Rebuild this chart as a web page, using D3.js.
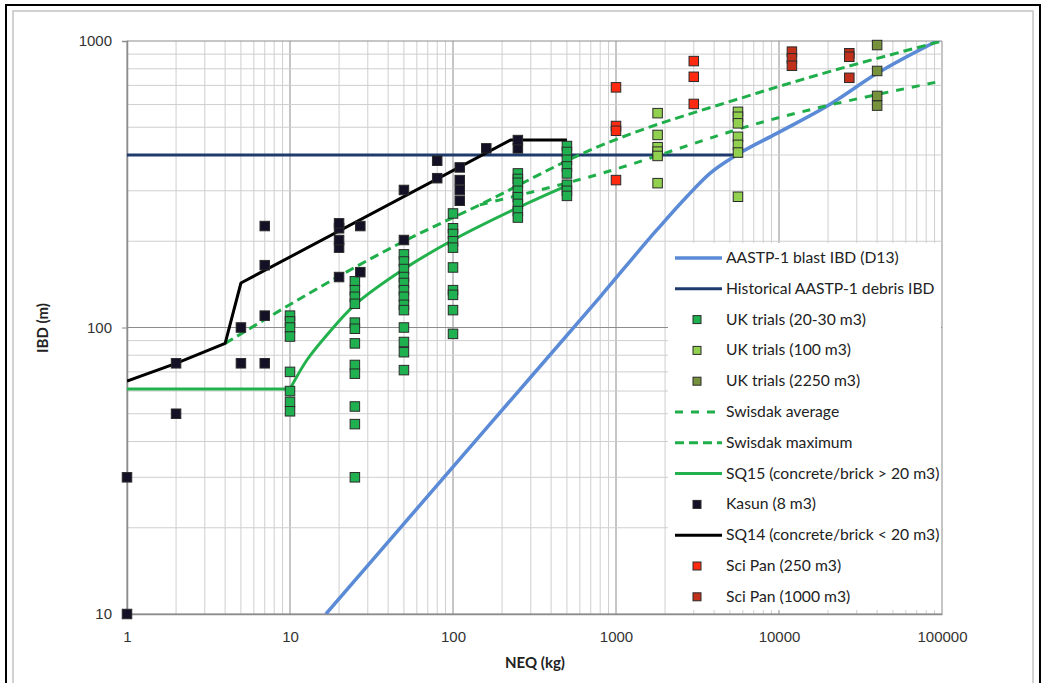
<!DOCTYPE html>
<html>
<head>
<meta charset="utf-8">
<script src="https://cdn.jsdelivr.net/npm/d3@7"></script>
<style>
  body { margin: 0; background: #fff; }
  svg { font-family: Lato, "Open Sans", sans-serif; }
  .grid-minor { stroke: #cfcfcf; stroke-width: 1; }
  .grid-major { stroke: #8c8c8c; stroke-width: 1; }
  .axis text { font-size: 15px; fill: #333; }
  .axis path, .axis line { stroke: #8c8c8c; }
  .legend text { font-size: 15.7px; fill: #222; }
</style>
</head>
<body>
<svg id="chart" width="1046" height="683"></svg>
<script>
// ---- data: [NEQ kg, IBD m] ----
var ukTrials20 = [
  [10,110],[10,105],[10,100],[10,93],[10,70],[10,60],[10,55],[10,51],
  [25,145],[25,135],[25,128],[25,121],[25,104],[25,99],[25,88],[25,74],[25,69],[25,53],[25,46],[25,30],
  [50,180],[50,170],[50,160],[50,150],[50,143],[50,135],[50,128],[50,120],[50,115],[50,100],[50,89],[50,82],[50,71],
  [100,250],[100,222],[100,212],[100,200],[100,190],[100,162],[100,135],[100,130],[100,115],[100,95],
  [250,345],[250,330],[250,320],[250,300],[250,285],[250,270],[250,255],[250,242],
  [500,430],[500,410],[500,385],[500,365],[500,345],[500,315],[500,300],[500,288]
];
var ukTrials100 = [
  [1800,560],[1800,470],[1800,426],[1800,411],[1800,397],[1800,319],
  [5600,566],[5600,544],[5600,516],[5600,463],[5600,434],[5600,408],[5600,286]
];
var ukTrials2250 = [[40000,968],[40000,786],[40000,643],[40000,595]];
var kasun = [
  [1,10],[1,30],[2,50],[2,75],[5,75],[5,100],[7,75],[7,110],[7,165],[7,226],
  [20,150],[20,190],[20,202],[20,222],[20,231],[27,156],[27,226],
  [50,202],[50,302],[80,332],[80,382],[110,277],[110,302],[110,327],[110,362],
  [160,422],[250,422],[250,451]
];
var sciPan250 = [[1000,689],[1000,505],[1000,486],[1000,327],[3000,851],[3000,750],[3000,603]];
var sciPan1000 = [[12000,918],[12000,870],[12000,820],[27000,906],[27000,881],[27000,744]];

var blastIBD = [[16.6,10],[177,47.5],[800,128],[1780,219],[2715,286],[3770,345],[5500,400],[9700,476],[20000,595],[40000,771],[100000,1020]];
var debrisIBD = [[1,400],[5500,400]];
var swisdakMax = [[4,88],[50,200],[146,268],[693,416],[7300,657],[100000,1000]];
var swisdakAvg = [[146,268],[693,336],[8800,530],[100000,725]];
var sq15 = [[1,61],[10,61],[12.7,77],[16.8,94],[25,120],[50,160],[100,202],[250,262],[500,313]];
var sq14 = [[1,65],[2,75],[4,88],[5,143],[225,451],[500,451]];

var xTicks = [1,10,100,1000,10000,100000];
var yTicks = [10,100,1000];

var legendItems = [
  {name: "AASTP-1 blast IBD (D13)", kind: "line", color: "#5b8bd6", width: 3.5},
  {name: "Historical AASTP-1 debris IBD", kind: "line", color: "#1f3b6e", width: 3},
  {name: "UK trials (20-30 m3)", kind: "mark", color: "#1fb04f"},
  {name: "UK trials (100 m3)", kind: "mark", color: "#92d050"},
  {name: "UK trials (2250 m3)", kind: "mark", color: "#76923c"},
  {name: "Swisdak average", kind: "line", color: "#1fae4a", width: 3, dash: "8,8"},
  {name: "Swisdak maximum", kind: "line", color: "#1fae4a", width: 3, dash: "9,5"},
  {name: "SQ15 (concrete/brick > 20 m3)", kind: "line", color: "#22b14c", width: 3},
  {name: "Kasun (8 m3)", kind: "mark", color: "#141026"},
  {name: "SQ14 (concrete/brick < 20 m3)", kind: "line", color: "#000", width: 3},
  {name: "Sci Pan (250 m3)", kind: "mark", color: "#ff2a10"},
  {name: "Sci Pan (1000 m3)", kind: "mark", color: "#c0301a"}
];

var svg = d3.select("#chart");
var plotL = 127, plotR = 942, plotT = 41, plotB = 614;

var x = d3.scaleLog().domain([1, 100000]).range([plotL, plotR]);
var y = d3.scaleLog().domain([10, 1000]).range([plotB, plotT]);

// outer frame
svg.append("rect").attr("x", 6).attr("y", 5).attr("width", 1034).attr("height", 690)
  .attr("fill", "none").attr("stroke", "#000").attr("stroke-width", 2);
svg.append("rect").attr("x", 13).attr("y", 11).attr("width", 1020).attr("height", 690)
  .attr("fill", "none").attr("stroke", "#c4c4c4").attr("stroke-width", 1.5);

svg.append("clipPath").attr("id", "plotclip").append("rect")
  .attr("x", plotL).attr("y", plotT).attr("width", plotR - plotL).attr("height", plotB - plotT);

// grid
var isMajor = function(v) { return Math.abs(Math.log10(v) - Math.round(Math.log10(v))) < 1e-6; };
var g = svg.append("g");
x.ticks().forEach(function(v) {
  g.append("line").attr("class", isMajor(v) ? "grid-major" : "grid-minor")
    .attr("x1", x(v)).attr("x2", x(v)).attr("y1", plotT).attr("y2", plotB);
});
y.ticks().forEach(function(v) {
  g.append("line").attr("class", isMajor(v) ? "grid-major" : "grid-minor")
    .attr("x1", plotL).attr("x2", plotR).attr("y1", y(v)).attr("y2", y(v));
});

// axes
svg.append("g").attr("class", "axis").attr("transform", "translate(0," + plotB + ")")
  .call(d3.axisBottom(x).tickValues(xTicks).tickFormat(d3.format("d")).tickSize(0).tickPadding(17))
  .call(function(a) { a.select(".domain").attr("stroke-width", 1.5); });
svg.append("g").attr("class", "axis").attr("transform", "translate(" + plotL + ",0)")
  .call(d3.axisLeft(y).tickValues(yTicks).tickFormat(d3.format("d")).tickSize(5).tickPadding(10))
  .call(function(a) { a.select(".domain").attr("stroke-width", 1.5); });

svg.append("text").attr("x", 535).attr("y", 668).attr("text-anchor", "middle")
  .attr("font-size", 15).attr("font-weight", "bold").attr("fill", "#222").text("NEQ (kg)");
svg.append("text").attr("transform", "translate(48,328) rotate(-90)").attr("text-anchor", "middle")
  .attr("font-size", 15).attr("font-weight", "bold").attr("fill", "#222").text("IBD (m)");

// lines
var plot = svg.append("g").attr("clip-path", "url(#plotclip)");
var smooth = d3.line().x(function(d) { return x(d[0]); }).y(function(d) { return y(d[1]); }).curve(d3.curveMonotoneX);
var rounded = d3.line().x(function(d) { return x(d[0]); }).y(function(d) { return y(d[1]); }).curve(d3.curveCatmullRom.alpha(0.5));
var straight = d3.line().x(function(d) { return x(d[0]); }).y(function(d) { return y(d[1]); });

function drawLine(data, gen, item) {
  plot.append("path").datum(data).attr("d", gen).attr("fill", "none")
    .attr("stroke", item.color).attr("stroke-width", item.width)
    .attr("stroke-dasharray", item.dash || null).attr("stroke-linejoin", "round");
}
drawLine(debrisIBD, straight, legendItems[1]);
drawLine(blastIBD, smooth, legendItems[0]);
drawLine(swisdakAvg, smooth, legendItems[5]);
drawLine(swisdakMax, smooth, legendItems[6]);
// SQ15: flat part up to 10 kg, then a smooth rise
drawLine(sq15.slice(0, 2), straight, legendItems[7]);
drawLine(sq15.slice(1), rounded, legendItems[7]);
drawLine(sq14, straight, legendItems[9]);

// markers
var S = 9.5;
function drawMarks(data, color) {
  svg.append("g").selectAll("rect").data(data).join("rect")
    .attr("x", function(d) { return x(d[0]) - S / 2; })
    .attr("y", function(d) { return y(d[1]) - S / 2; })
    .attr("width", S).attr("height", S)
    .attr("fill", color).attr("stroke", "#2a2a2a").attr("stroke-width", 1);
}
drawMarks(ukTrials20, legendItems[2].color);
drawMarks(ukTrials100, legendItems[3].color);
drawMarks(ukTrials2250, legendItems[4].color);
drawMarks(kasun, legendItems[8].color);
drawMarks(sciPan250, legendItems[10].color);
drawMarks(sciPan1000, legendItems[11].color);

// legend
var lg = svg.append("g").attr("class", "legend");
lg.append("rect").attr("x", 668).attr("y", 243).attr("width", 273).attr("height", 367).attr("fill", "#fff");
legendItems.forEach(function(it, i) {
  var ly = 258 + i * 30.8;
  if (it.kind === "line") {
    lg.append("line").attr("x1", 675).attr("x2", 722).attr("y1", ly).attr("y2", ly)
      .attr("stroke", it.color).attr("stroke-width", it.width).attr("stroke-dasharray", it.dash || null);
  } else {
    lg.append("rect").attr("x", 697 - 4).attr("y", ly - 4).attr("width", 8).attr("height", 8)
      .attr("fill", it.color).attr("stroke", "#2a2a2a").attr("stroke-width", 1);
  }
  lg.append("text").attr("x", 726).attr("y", ly + 5).text(it.name);
});
</script>
</body>
</html>
